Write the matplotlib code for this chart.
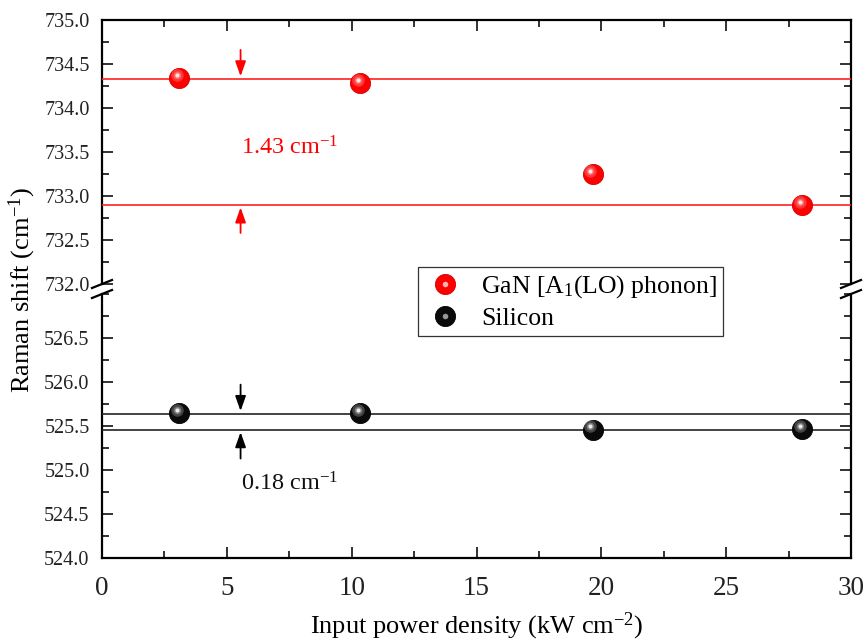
import matplotlib
matplotlib.use("Agg")
import matplotlib.pyplot as plt
import numpy as np
from matplotlib.lines import Line2D
from matplotlib.transforms import offset_copy
from matplotlib.ticker import MultipleLocator

plt.rcParams['font.family'] = ['Liberation Serif', 'DejaVu Serif']
plt.rcParams['mathtext.fontset'] = 'custom'
plt.rcParams['mathtext.rm'] = 'Liberation Serif'
plt.rcParams['mathtext.it'] = 'Liberation Serif:italic'

# data
power = [3.1, 10.35, 19.65, 28.05]
gan_shift = [734.34, 734.28, 733.25, 732.90]
si_shift = [525.65, 525.65, 525.46, 525.47]

gan_lines = [734.33, 732.90]
si_lines = [525.64, 525.46]
arrow_x = 5.55
gan_label = "1.43 cm$^{-1}$"
si_label = "0.18 cm$^{-1}$"

W, H = 866, 644
fig = plt.figure(figsize=(W / 100, H / 100), dpi=100)

def fbox(x0, y0, x1, y1):
    return [x0 / W, 1 - y1 / H, (x1 - x0) / W, (y1 - y0) / H]

ax_top = fig.add_axes(fbox(102, 20, 851, 284))
ax_bot = fig.add_axes(fbox(102, 294, 851, 558))

for ax in (ax_top, ax_bot):
    ax.set_xlim(0, 30)
    ax.xaxis.set_major_locator(MultipleLocator(5))
    ax.xaxis.set_minor_locator(MultipleLocator(2.5))
    ax.yaxis.set_major_locator(MultipleLocator(0.5))
    ax.yaxis.set_minor_locator(MultipleLocator(0.25))
    ax.tick_params(which='both', direction='in', labelsize=14.5, width=1.3, colors='#222222')
    ax.tick_params(which='major', length=8)
    ax.tick_params(which='minor', length=5)
    ax.tick_params(axis='y', pad=9)
    for s in ax.spines.values():
        s.set_linewidth(1.6)
    ax.yaxis.set_major_formatter(plt.FormatStrFormatter('%.1f'))

ax_top.set_ylim(732, 735)
ax_bot.set_ylim(524, 527)
ax_top.spines['bottom'].set_visible(False)
ax_bot.spines['top'].set_visible(False)
ax_top.tick_params(which='both', bottom=False, labelbottom=False, top=True, right=True)
ax_bot.tick_params(which='both', top=False, right=True)
ax_bot.set_yticks(np.arange(524, 527.0, 0.5))
ax_bot.tick_params(axis='x', labelsize=19.5, pad=13)


def spheres(ax, x, y, color, dark, light):
    ax.plot(x, y, 'o', ms=14.5, color=color, mec=dark, mew=0.6, zorder=5, ls='none')
    t = offset_copy(ax.transData, fig=fig, x=-1.8, y=2.2, units='points')
    ax.plot(x, y, 'o', ms=9, color=light, mew=0, alpha=0.35, transform=t, zorder=6, ls='none')
    ax.plot(x, y, 'o', ms=5.5, color=light, mew=0, alpha=0.5, transform=t, zorder=7, ls='none')
    ax.plot(x, y, 'o', ms=3, color='white', mew=0, alpha=0.85, transform=t, zorder=8, ls='none')


spheres(ax_top, power, gan_shift, '#ff0000', '#d00000', '#ff9a9a')
spheres(ax_bot, power, si_shift, '#0a0a0a', '#000000', '#b0b0b0')

for v in gan_lines:
    ax_top.axhline(v, color='#ff2020', lw=1.2, zorder=3)
for v in si_lines:
    ax_bot.axhline(v, color='#222222', lw=1.2, zorder=3)

ap_r = dict(arrowstyle='-|>,head_length=0.9,head_width=0.32', color='red', lw=1.3, shrinkA=0, shrinkB=0)
ax_top.annotate('', xy=(arrow_x, gan_lines[0] + 0.03), xytext=(arrow_x, 734.66), arrowprops=ap_r)
ax_top.annotate('', xy=(arrow_x, gan_lines[1] - 0.03), xytext=(arrow_x, 732.58), arrowprops=ap_r)
ap_k = dict(ap_r, color='black')
ax_bot.annotate('', xy=(arrow_x, si_lines[0] + 0.03), xytext=(arrow_x, 525.97), arrowprops=ap_k)
ax_bot.annotate('', xy=(arrow_x, si_lines[1] - 0.03), xytext=(arrow_x, 525.13), arrowprops=ap_k)

ax_top.text(5.55, 733.55, gan_label, color='red', fontsize=17.5, ha='left', va='center')
ax_bot.text(5.55, 524.84, si_label, color='#111111', fontsize=17.5, ha='left', va='center')

ax_bot.set_xlabel("Input power density (kW cm$^{-2}$)", fontsize=19, labelpad=7)
fig.text(22 / W, 1 - 290 / H, "Raman shift (cm$^{-1}$)", rotation=90, fontsize=19,
         ha='center', va='center')

# break marks
for xs in (102, 851):
    for yc in (284, 294):
        fig.add_artist(Line2D([(xs - 10) / W, (xs + 10) / W],
                              [1 - (yc + 4) / H, 1 - (yc - 4) / H],
                              color='black', lw=1.6))

h_gan = (Line2D([], [], ls='none', marker='o', ms=14.5, color='#ff0000', mec='#d00000', mew=0.6),
         Line2D([], [], ls='none', marker='o', ms=4, color='white', mew=0, alpha=0.7))
h_si = (Line2D([], [], ls='none', marker='o', ms=14.5, color='#0a0a0a', mec='black', mew=0.6),
        Line2D([], [], ls='none', marker='o', ms=4, color='#bbbbbb', mew=0, alpha=0.8))
leg = fig.legend([h_gan, h_si], ["GaN [A$_1$(LO) phonon]", "Silicon"],
                 loc='upper left', bbox_to_anchor=(418 / W, 1 - 267 / H), borderaxespad=0,
                 fontsize=18.5, frameon=True, fancybox=False, edgecolor='#333333',
                 framealpha=1, borderpad=0.25, handletextpad=0.6, labelspacing=0.25,
                 handlelength=1.6)
leg.get_frame().set_linewidth(0.9)

fig.savefig("out.png", dpi=100)
